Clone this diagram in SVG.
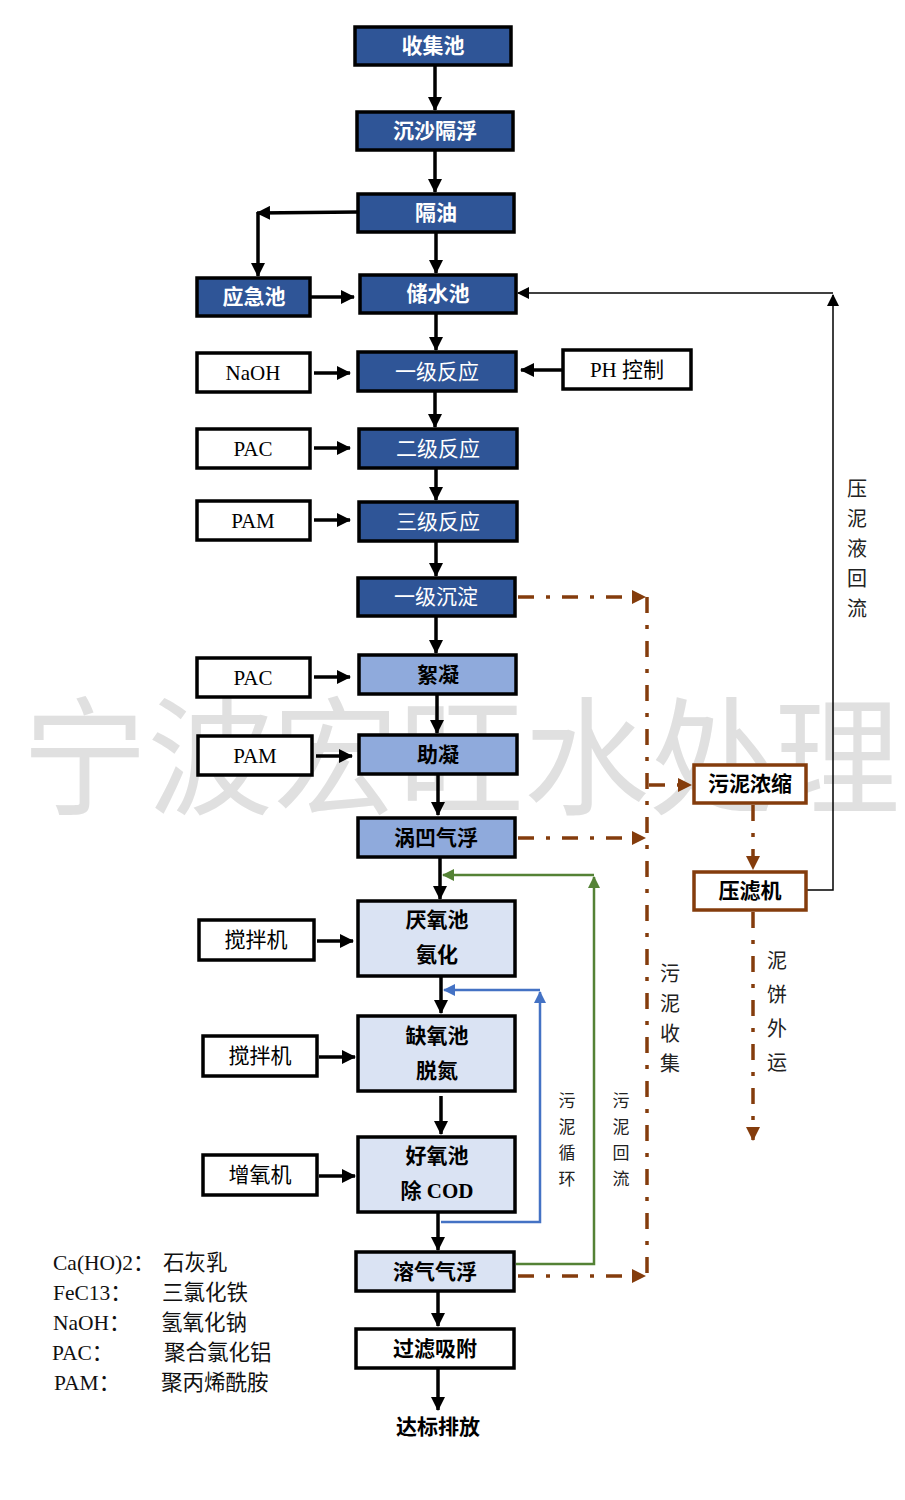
<svg xmlns="http://www.w3.org/2000/svg" width="905" height="1500" viewBox="0 0 905 1500">
<style>
.bx{stroke:#000;stroke-width:3.5}
.dk{fill:#2F5597}
.md{fill:#8FAADC}
.lt{fill:#DAE3F3}
.wt{fill:#fff}
.br{fill:#fff;stroke:#843C0C;stroke-width:3.5}
.t{font-family:"Liberation Serif","Noto Sans CJK SC",serif;font-size:21px;text-anchor:middle}
.tw{fill:#fff;font-weight:bold}
.tr{fill:#fff;font-weight:normal}
.tb{fill:#000;font-weight:bold}
.tn{fill:#000}
.v{font-family:"Noto Sans CJK SC",sans-serif;fill:#222;text-anchor:middle}
.lg{font-family:"Liberation Serif","Noto Sans CJK SC",serif;font-size:21.5px;fill:#111}
.a{stroke:#000;stroke-width:3.5;fill:none;marker-end:url(#ah)}
.bd{stroke:#843C0C;stroke-width:3.5;fill:none;stroke-dasharray:16 12 4 12}
.bda{stroke:#843C0C;stroke-width:3.5;fill:none;stroke-dasharray:16 12 4 12;marker-end:url(#bh)}
</style>
<defs>
<marker id="ah" markerUnits="userSpaceOnUse" markerWidth="14" markerHeight="14" refX="13" refY="7" orient="auto"><path d="M0,0 L14,7 L0,14 z" fill="#000"/></marker>
<marker id="bh" markerUnits="userSpaceOnUse" markerWidth="14" markerHeight="14" refX="13" refY="7" orient="auto"><path d="M0,0 L14,7 L0,14 z" fill="#843C0C"/></marker>
<marker id="kh" markerUnits="userSpaceOnUse" markerWidth="12" markerHeight="12" refX="11" refY="6" orient="auto"><path d="M0,0 L12,6 L0,12 z" fill="#000"/></marker>
<marker id="gh" markerUnits="userSpaceOnUse" markerWidth="12" markerHeight="12" refX="11" refY="6" orient="auto"><path d="M0,0 L12,6 L0,12 z" fill="#548235"/></marker>
<marker id="uh" markerUnits="userSpaceOnUse" markerWidth="12" markerHeight="12" refX="11" refY="6" orient="auto"><path d="M0,0 L12,6 L0,12 z" fill="#4472C4"/></marker>
</defs>
<rect width="905" height="1500" fill="#fff"/>
<text x="22" y="805" textLength="878" lengthAdjust="spacingAndGlyphs" font-family="Noto Sans CJK SC, sans-serif" font-size="128" fill="#e0e0e0">宁波宏旺水处理</text>

<g id="connectors">
<line class="a" x1="435" y1="65" x2="435" y2="110"/>
<line class="a" x1="435" y1="150" x2="435" y2="192"/>
<line class="a" x1="436" y1="232" x2="436" y2="273"/>
<line class="a" x1="358" y1="212" x2="257" y2="213"/>
<line class="a" x1="258" y1="212" x2="258" y2="276"/>
<line class="a" x1="311" y1="297" x2="354" y2="297"/>
<line class="a" x1="436" y1="313" x2="436" y2="350"/>
<line class="a" x1="314" y1="373" x2="350" y2="373"/>
<line class="a" x1="563" y1="370" x2="521" y2="370"/>
<line class="a" x1="435" y1="391" x2="435" y2="427"/>
<line class="a" x1="314" y1="448" x2="350" y2="448"/>
<line class="a" x1="436" y1="468" x2="436" y2="500"/>
<line class="a" x1="314" y1="520" x2="350" y2="520"/>
<line class="a" x1="436" y1="541" x2="436" y2="576"/>
<line class="a" x1="436" y1="616" x2="436" y2="653"/>
<line class="a" x1="314" y1="677" x2="350" y2="677"/>
<line class="a" x1="437" y1="694" x2="437" y2="733"/>
<line class="a" x1="316" y1="756" x2="352" y2="756"/>
<line class="a" x1="438" y1="774" x2="438" y2="815"/>
<line class="a" x1="440" y1="857" x2="440" y2="899"/>
<line class="a" x1="317" y1="941" x2="353" y2="941"/>
<line class="a" x1="441" y1="976" x2="441" y2="1013"/>
<line class="a" x1="319" y1="1057" x2="355" y2="1057"/>
<line class="a" x1="441" y1="1096" x2="441" y2="1134"/>
<line class="a" x1="319" y1="1176" x2="355" y2="1176"/>
<line class="a" x1="438" y1="1212" x2="438" y2="1250"/>
<line class="a" x1="438" y1="1292" x2="438" y2="1326"/>
<line class="a" x1="438" y1="1368" x2="438" y2="1410"/>
<polyline points="807,890 833,890 833,295" fill="none" stroke="#000" stroke-width="1.5" marker-end="url(#kh)"/>
<line x1="833" y1="293" x2="518" y2="293" stroke="#000" stroke-width="1.5" marker-end="url(#kh)"/>
<polyline points="516,1264 594,1264 594,877" fill="none" stroke="#548235" stroke-width="2.5" marker-end="url(#gh)"/>
<line x1="594" y1="875" x2="443" y2="875" stroke="#548235" stroke-width="2.5" marker-end="url(#gh)"/>
<polyline points="441,1222 540,1222 540,992" fill="none" stroke="#4472C4" stroke-width="2.5" marker-end="url(#uh)"/>
<line x1="540" y1="990" x2="444" y2="990" stroke="#4472C4" stroke-width="2.5" marker-end="url(#uh)"/>
<line class="bda" x1="518" y1="597" x2="645" y2="597"/>
<line class="bd" x1="647" y1="597" x2="647" y2="1278"/>
<line class="bda" x1="518" y1="838" x2="645" y2="838"/>
<line class="bda" x1="518" y1="1276" x2="645" y2="1276"/>
<line class="bda" x1="649" y1="785" x2="691" y2="785"/>
<line class="bda" x1="753" y1="805" x2="753" y2="869"/>
<line class="bda" x1="753" y1="912" x2="753" y2="1140"/>
</g>

<g id="n-shoujichi"><rect class="bx dk" x="355" y="27" width="156" height="38"/><text class="t tw" x="433" y="53">收集池</text></g>
<g id="n-chensha"><rect class="bx dk" x="357" y="112" width="156" height="38"/><text class="t tw" x="435" y="138">沉沙隔浮</text></g>
<g id="n-geyou"><rect class="bx dk" x="358" y="194" width="156" height="38"/><text class="t tw" x="436" y="220">隔油</text></g>
<g id="n-yingji"><rect class="bx dk" x="197" y="278" width="113" height="38"/><text class="t tw" x="254" y="304">应急池</text></g>
<g id="n-chushui"><rect class="bx dk" x="360" y="275" width="156" height="38"/><text class="t tw" x="438" y="301">储水池</text></g>
<g id="n-naoh"><rect class="bx wt" x="197" y="353" width="113" height="39"/><text class="t tn" x="253" y="380">NaOH</text></g>
<g id="n-fy1"><rect class="bx dk" x="358" y="352" width="158" height="39"/><text class="t tr" x="437" y="379">一级反应</text></g>
<g id="n-ph"><rect class="bx wt" x="563" y="350" width="128" height="39"/><text class="t tn" x="627" y="377">PH 控制</text></g>
<g id="n-pac1"><rect class="bx wt" x="197" y="429" width="113" height="39"/><text class="t tn" x="253" y="456">PAC</text></g>
<g id="n-fy2"><rect class="bx dk" x="359" y="429" width="158" height="39"/><text class="t tr" x="438" y="456">二级反应</text></g>
<g id="n-pam1"><rect class="bx wt" x="197" y="501" width="113" height="39"/><text class="t tn" x="253" y="528">PAM</text></g>
<g id="n-fy3"><rect class="bx dk" x="359" y="502" width="158" height="39"/><text class="t tr" x="438" y="529">三级反应</text></g>
<g id="n-cd1"><rect class="bx dk" x="358" y="578" width="157" height="38"/><text class="t tr" x="436" y="604">一级沉淀</text></g>
<g id="n-pac2"><rect class="bx wt" x="197" y="658" width="113" height="39"/><text class="t tn" x="253" y="685">PAC</text></g>
<g id="n-xuning"><rect class="bx md" x="359" y="655" width="157" height="39"/><text class="t tb" x="438" y="682">絮凝</text></g>
<g id="n-pam2"><rect class="bx wt" x="198" y="736" width="114" height="39"/><text class="t tn" x="255" y="763">PAM</text></g>
<g id="n-zhuning"><rect class="bx md" x="359" y="735" width="158" height="39"/><text class="t tb" x="438" y="762">助凝</text></g>
<g id="n-wotu"><rect class="bx md" x="358" y="818" width="157" height="39"/><text class="t tb" x="436" y="845">涡凹气浮</text></g>
<g id="n-yanyang"><rect class="bx lt" x="358" y="901" width="157" height="75"/><text class="t tb" x="437" y="927">厌氧池</text><text class="t tb" x="437" y="962">氨化</text></g>
<g id="n-jb1"><rect class="bx wt" x="199" y="920" width="115" height="40"/><text class="t tn" x="256" y="947">搅拌机</text></g>
<g id="n-queyang"><rect class="bx lt" x="358" y="1016" width="157" height="75"/><text class="t tb" x="437" y="1043">缺氧池</text><text class="t tb" x="437" y="1078">脱氮</text></g>
<g id="n-jb2"><rect class="bx wt" x="203" y="1036" width="114" height="40"/><text class="t tn" x="260" y="1063">搅拌机</text></g>
<g id="n-haoyang"><rect class="bx lt" x="358" y="1137" width="157" height="75"/><text class="t tb" x="437" y="1163">好氧池</text><text class="t tb" x="437" y="1198">除 COD</text></g>
<g id="n-zengyang"><rect class="bx wt" x="203" y="1155" width="114" height="40"/><text class="t tn" x="260" y="1182">增氧机</text></g>
<g id="n-rongqi"><rect class="bx lt" x="356" y="1252" width="158" height="39"/><text class="t tb" x="435" y="1279">溶气气浮</text></g>
<g id="n-guolv"><rect class="bx wt" x="356" y="1329" width="158" height="39"/><text class="t tb" x="435" y="1356">过滤吸附</text></g>
<g id="n-dabiao"><text class="t tb" x="438" y="1434">达标排放</text></g>
<g id="n-nongsuo"><rect class="br" x="694" y="765" width="112" height="38"/><text class="t tb" x="750" y="791">污泥浓缩</text></g>
<g id="n-yalv"><rect class="br" x="694" y="872" width="112" height="38"/><text class="t tb" x="750" y="898">压滤机</text></g>

<g id="labels">
<text class="v" font-size="20"><tspan x="857" y="496">压</tspan><tspan x="857" y="526">泥</tspan><tspan x="857" y="556">液</tspan><tspan x="857" y="586">回</tspan><tspan x="857" y="616">流</tspan></text>
<text class="v" font-size="20"><tspan x="670" y="981">污</tspan><tspan x="670" y="1011">泥</tspan><tspan x="670" y="1041">收</tspan><tspan x="670" y="1071">集</tspan></text>
<text class="v" font-size="20"><tspan x="777" y="968">泥</tspan><tspan x="777" y="1002">饼</tspan><tspan x="777" y="1036">外</tspan><tspan x="777" y="1070">运</tspan></text>
<text class="v" font-size="17"><tspan x="567" y="1107">污</tspan><tspan x="567" y="1133">泥</tspan><tspan x="567" y="1159">循</tspan><tspan x="567" y="1185">环</tspan></text>
<text class="v" font-size="17"><tspan x="621" y="1107">污</tspan><tspan x="621" y="1133">泥</tspan><tspan x="621" y="1159">回</tspan><tspan x="621" y="1185">流</tspan></text>
</g>

<g id="legend">
<text class="lg" x="53" y="1270">Ca(HO)2：</text><text class="lg" x="163" y="1270">石灰乳</text>
<text class="lg" x="53" y="1300">FeC13：</text><text class="lg" x="162" y="1300">三氯化铁</text>
<text class="lg" x="53" y="1330">NaOH：</text><text class="lg" x="161" y="1330">氢氧化钠</text>
<text class="lg" x="52" y="1360">PAC：</text><text class="lg" x="164" y="1360">聚合氯化铝</text>
<text class="lg" x="54" y="1390">PAM：</text><text class="lg" x="161" y="1390">聚丙烯酰胺</text>
</g>
</svg>
